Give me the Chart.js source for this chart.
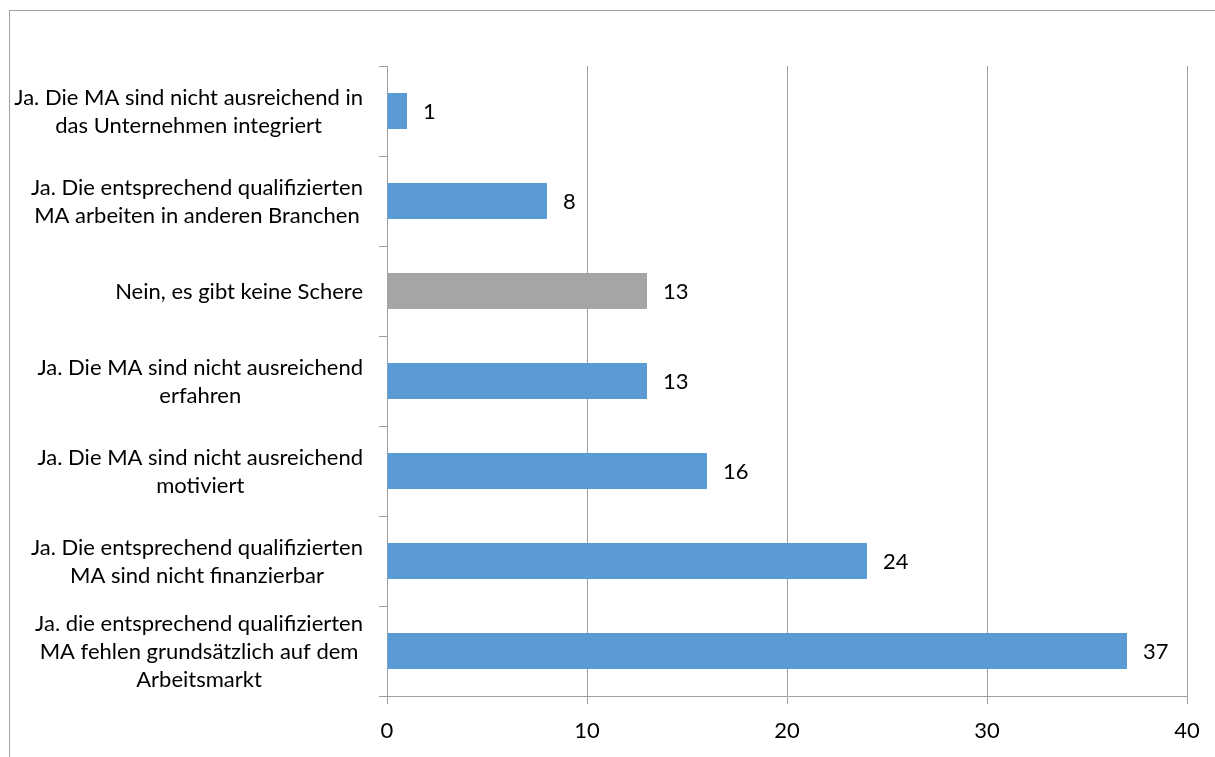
<!DOCTYPE html>
<html>
<head>
<meta charset="utf-8">
<script src="https://cdn.jsdelivr.net/npm/chart.js@4.4.1/dist/chart.umd.min.js"></script>
<style>
  body { margin: 0; background: #fff; }
  #wrap { position: relative; width: 1215px; height: 757px; }
  #frame { position: absolute; left: 9px; top: 10px; right: 0; bottom: 0; border-top: 1px solid #a0a0a0; border-left: 1px solid #a0a0a0; pointer-events: none; }
  canvas { position: absolute; left: 0; top: 0; }
</style>
</head>
<body>
<div id="wrap">
  <canvas id="chart" width="1215" height="757"></canvas>
  <div id="frame"></div>
</div>
<script>
const categories = [
    ['Ja. Die MA sind nicht ausreichend in', 'das Unternehmen integriert'],
    ['Ja. Die entsprechend qualifizierten', 'MA arbeiten in anderen Branchen'],
    ['Nein, es gibt keine Schere'],
    ['Ja. Die MA sind nicht ausreichend', 'erfahren'],
    ['Ja. Die MA sind nicht ausreichend', 'motiviert'],
    ['Ja. Die entsprechend qualifizierten', 'MA sind nicht finanzierbar'],
    ['Ja. die entsprechend qualifizierten', 'MA fehlen grundsätzlich auf dem', 'Arbeitsmarkt']
];
const values = [1, 8, 13, 13, 16, 24, 37];
const barColors = ['#5B9BD5', '#5B9BD5', '#A5A5A5', '#5B9BD5', '#5B9BD5', '#5B9BD5', '#5B9BD5'];
const xTicks = [0, 10, 20, 30, 40];

const FONT = 'Lato';
const FONT_SIZE = 22;
const LINE_H = 28;
const GRID = '#a0a0a0';

// value labels right of each bar
const valueLabels = {
    id: 'valueLabels',
    afterDatasetsDraw(chart) {
        const ctx = chart.ctx;
        const meta = chart.getDatasetMeta(0);
        ctx.save();
        ctx.font = FONT_SIZE + 'px ' + FONT;
        ctx.fillStyle = '#000';
        ctx.textAlign = 'left';
        ctx.textBaseline = 'middle';
        meta.data.forEach((bar, i) => {
            ctx.fillText(String(values[i]), bar.x + 16, bar.y + 1);
        });
        ctx.restore();
    }
};

// category labels: block right aligned, lines centred inside the block
const catLabels = {
    id: 'catLabels',
    afterDraw(chart) {
        const ctx = chart.ctx;
        const y = chart.scales.y;
        const rightEdge = y.right - 8 - 16;
        ctx.save();
        ctx.font = FONT_SIZE + 'px ' + FONT;
        ctx.fillStyle = '#000';
        ctx.textAlign = 'center';
        ctx.textBaseline = 'middle';
        categories.forEach((lines, i) => {
            const w = Math.max(...lines.map(l => ctx.measureText(l).width));
            const cx = rightEdge - w / 2;
            const cy = y.getPixelForTick(i);
            const y0 = cy - (lines.length - 1) * LINE_H / 2;
            lines.forEach((l, k) => ctx.fillText(l, cx, y0 + k * LINE_H + 1));
        });
        ctx.restore();
    }
};

new Chart(document.getElementById('chart').getContext('2d'), {
    type: 'bar',
    data: {
        labels: categories,
        datasets: [{
            data: values,
            backgroundColor: barColors,
            borderWidth: 0,
            categoryPercentage: 0.4,
            barPercentage: 1.0
        }]
    },
    options: {
        indexAxis: 'y',
        responsive: false,
        maintainAspectRatio: false,
        animation: false,
        layout: { padding: { top: 66, right: 28, left: 0, bottom: 0 } },
        plugins: { legend: { display: false }, tooltip: { enabled: false } },
        scales: {
            x: {
                type: 'linear',
                min: 0,
                max: 40,
                afterBuildTicks: (scale) => { scale.ticks = xTicks.map(v => ({ value: v })); },
                afterFit: (scale) => { scale.height = 61; },
                ticks: { color: '#000', padding: 14, font: { family: FONT, size: FONT_SIZE } },
                grid: { color: GRID, lineWidth: 1, tickLength: 8, drawTicks: true },
                border: { display: true, color: GRID, width: 1 }
            },
            y: {
                type: 'category',
                afterFit: (scale) => { scale.width = 387; },
                ticks: { display: false },
                grid: { offset: true, drawOnChartArea: false, drawTicks: true, tickLength: 8, color: GRID, lineWidth: 1 },
                border: { display: true, color: GRID, width: 1 }
            }
        }
    },
    plugins: [valueLabels, catLabels]
});
</script>
</body>
</html>
